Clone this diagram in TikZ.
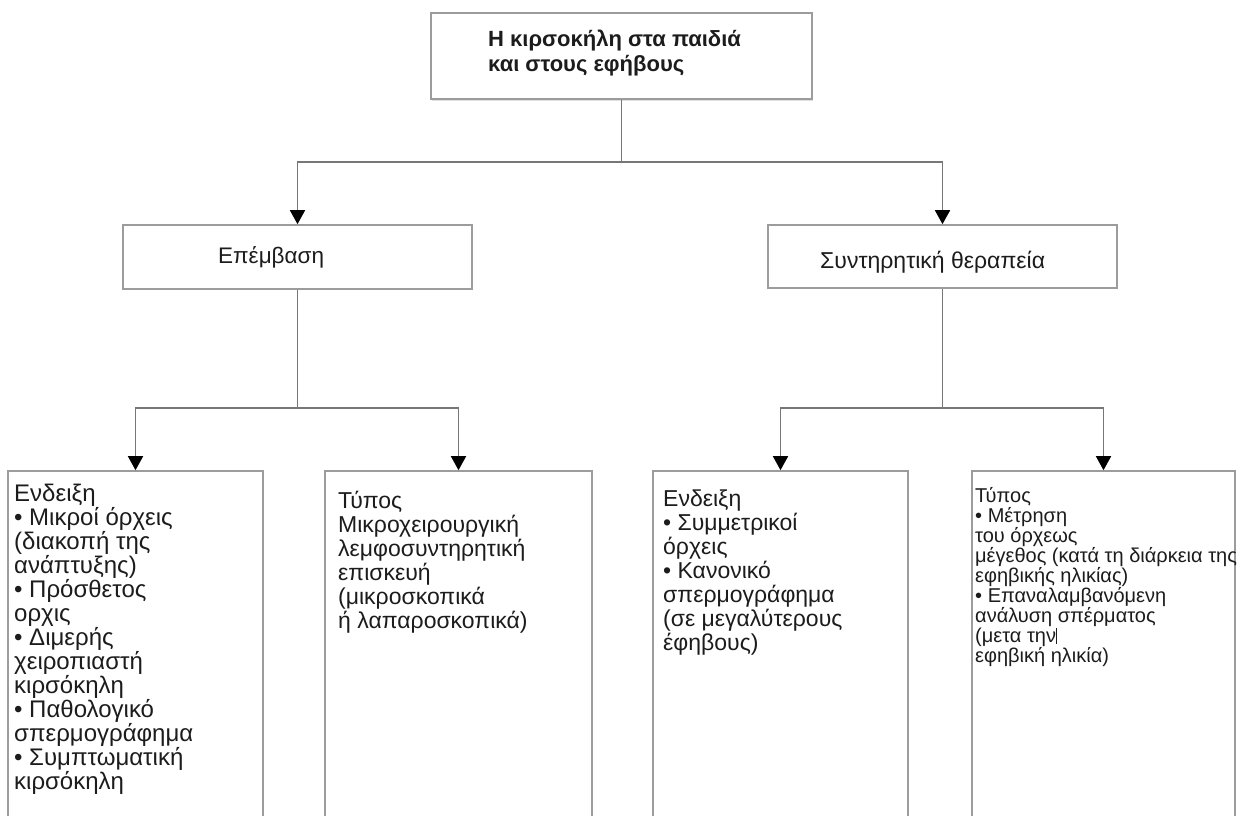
\documentclass[tikz,border=0pt]{standalone}
\usepackage{fontspec}
\setmainfont{Liberation Sans}
\usetikzlibrary{arrows.meta,shadows}

\definecolor{edge}{HTML}{9C9C9C}
\definecolor{wire}{HTML}{777777}
\definecolor{ink}{HTML}{1C1C1C}

% multi-line text block whose baseline is the first line
\newcommand\textblock[1]{\parbox[t]{300pt}{\raggedright #1}}

\begin{document}
\begin{tikzpicture}[x=1pt,y=-1pt,
  frame/.style={draw=edge, line width=1.6pt, fill=white, inner sep=0pt, shape=rectangle},
  wirepath/.style={draw=wire, line width=1.6pt},
  feed/.style={wirepath, -{Triangle[width=15pt,length=14pt,fill=black,color=black]}},
  lbl/.style={anchor=base west, inner sep=0pt, text=ink},
  big/.style={lbl, font=\fontsize{23}{24}\selectfont},
  small/.style={lbl, font=\fontsize{20}{20}\selectfont}
]
\useasboundingbox (0,0) rectangle (1240,816);
\fill[white] (0,0) rectangle (1240,816);

% boxes
\node[frame, minimum width=381pt, minimum height=86pt,
      drop shadow={opacity=0.25, shadow xshift=1pt, shadow yshift=-2pt}] (top) at (621.5,56) {};
\node[frame, minimum width=349pt, minimum height=64pt] (epem) at (297.5,257) {};
\node[frame, minimum width=349pt, minimum height=63pt] (synt) at (942.5,256.5) {};
\node[frame, minimum width=255pt, minimum height=360pt] (b1) at (135.5,651) {};
\node[frame, minimum width=267pt, minimum height=360pt] (b2) at (458.5,651) {};
\node[frame, minimum width=255pt, minimum height=360pt] (b3) at (780.5,651) {};
\node[frame, minimum width=263pt, minimum height=360pt] (b4) at (1103.5,651) {};

% branch points
\coordinate (j0) at (621.5,162);
\coordinate (jL) at (297.5,408);
\coordinate (jR) at (942.5,408);

% connectors
\draw[wirepath] (top.south) -- (j0);
\draw[feed] (j0) -| (epem.north);
\draw[feed] (j0) -| (synt.north);
\draw[wirepath] (epem.south) -- (jL);
\draw[feed] (jL) -| (b1.north);
\draw[feed] (jL) -| (b2.north);
\draw[wirepath] (synt.south) -- (jR);
\draw[feed] (jR) -| (b3.north);
\draw[feed] (jR) -| (b4.north);

% texts
\node[lbl, font=\bfseries\fontsize{22}{25}\selectfont] (ttop) at (488,47)
  {\textblock{Η κιρσοκήλη στα παιδιά\\και στους εφήβους}};
\node[lbl, font=\fontsize{22.5}{26}\selectfont] (tepem) at (218,263) {Επέμβαση};
\node[lbl, font=\fontsize{23}{26}\selectfont] (tsynt) at (820,268) {Συντηρητική θεραπεία};

\node[big, font=\fontsize{24}{24}\selectfont] (t1) at (14,501) {\textblock{Ενδειξη\\
• Μικροί όρχεις\\
(διακοπή της\\
ανάπτυξης)\\
• Πρόσθετος\\
ορχις\\
• Διμερής\\
χειροπιαστή\\
κιρσόκηλη\\
• Παθολογικό\\
σπερμογράφημα\\
• Συμπτωματική\\
κιρσόκηλη}};

\node[big] (t2) at (338,508) {\textblock{Τύπος\\
Μικροχειρουργική\\
λεμφοσυντηρητική\\
επισκευή\\
(μικροσκοπικά\\
ή λαπαροσκοπικά)}};

\node[big] (t3) at (663,506) {\textblock{Ενδειξη\\
• Συμμετρικοί\\
όρχεις\\
• Κανονικό\\
σπερμογράφημα\\
(σε μεγαλύτερους\\
έφηβους)}};

\node[small] (t4) at (975,502) {\textblock{Τύπος\\
• Μέτρηση\\
του όρχεως\\
μέγεθος (κατά τη διάρκεια της\\
εφηβικής ηλικίας)\\
• Επαναλαμβανόμενη\\
ανάλυση σπέρματος\\
(μετα την\rule[-2pt]{0.9pt}{16pt}\\
εφηβική ηλικία)}};
\end{tikzpicture}
\end{document}
